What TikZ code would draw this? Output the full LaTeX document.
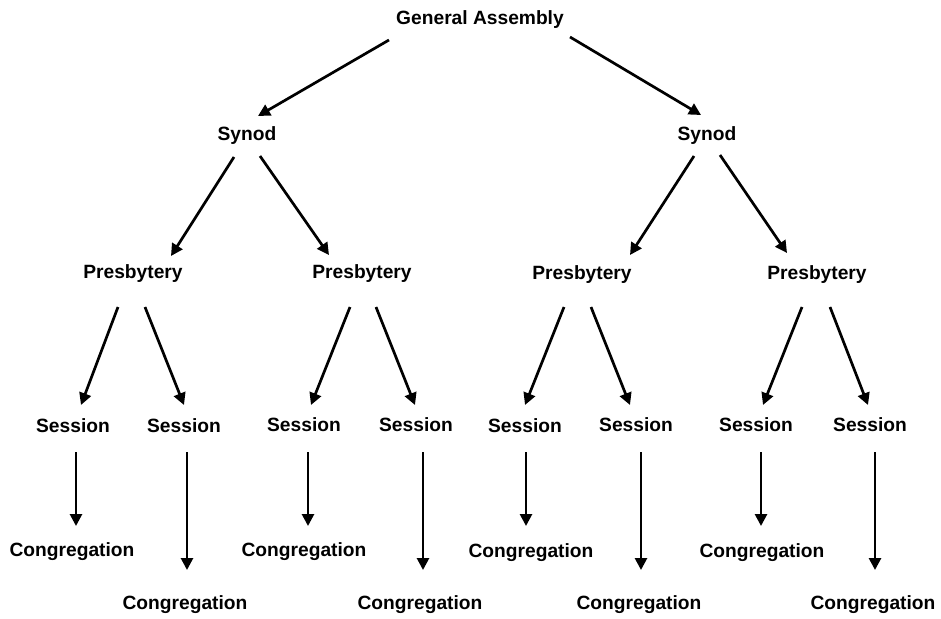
\documentclass[tikz,border=0pt]{standalone}
\usepackage{fontspec}
\setmainfont{Liberation Sans}
\usetikzlibrary{arrows.meta}
\begin{document}
\begin{tikzpicture}[x=1pt,y=-1pt,
  lbl/.style={font=\bfseries\fontsize{19.2}{22}\selectfont, inner sep=0pt, anchor=center, yshift=-2pt},
  conn/.style={line width=2.7pt, -{Triangle[length=12pt,width=12pt]}}]
\useasboundingbox (0,0) rectangle (941,618);
% labels
\node[lbl] (ga) at (480,18) {General Assembly};
\node[lbl] (s1) at (247,134) {Synod};
\node[lbl] (s2) at (707,134) {Synod};
\node[lbl] (p1) at (133,272) {Presbytery};
\node[lbl] (p2) at (362,272) {Presbytery};
\node[lbl] (p3) at (582,273) {Presbytery};
\node[lbl] (p4) at (817,273) {Presbytery};
\node[lbl] (e1) at (73,424) {Session};
\node[lbl] (e2) at (184,424) {Session};
\node[lbl] (e3) at (304,423) {Session};
\node[lbl] (e4) at (416,423) {Session};
\node[lbl] (e5) at (525,424) {Session};
\node[lbl] (e6) at (636,423) {Session};
\node[lbl] (e7) at (756,423) {Session};
\node[lbl] (e8) at (870,423) {Session};
\node[lbl] (c1) at (72,550) {Congregation};
\node[lbl] (c2) at (185,603) {Congregation};
\node[lbl] (c3) at (304,550) {Congregation};
\node[lbl] (c4) at (420,603) {Congregation};
\node[lbl] (c5) at (531,551) {Congregation};
\node[lbl] (c6) at (639,603) {Congregation};
\node[lbl] (c7) at (762,551) {Congregation};
\node[lbl] (c8) at (873,603) {Congregation};
% connector end points
\coordinate (ga-a) at (389,40);  \coordinate (s1-in) at (258,116);
\coordinate (ga-b) at (570,37);  \coordinate (s2-in) at (701,115);
\coordinate (s1-a) at (234,157); \coordinate (p1-in) at (171,256);
\coordinate (s1-b) at (260,156); \coordinate (p2-in) at (329,255);
\coordinate (s2-a) at (694,156); \coordinate (p3-in) at (630,255);
\coordinate (s2-b) at (720,155); \coordinate (p4-in) at (787,253);
\coordinate (p1-a) at (118,307); \coordinate (e1-in) at (81,405);
\coordinate (p1-b) at (145,307); \coordinate (e2-in) at (184,405);
\coordinate (p2-a) at (350,307); \coordinate (e3-in) at (311,405);
\coordinate (p2-b) at (376,307); \coordinate (e4-in) at (415,405);
\coordinate (p3-a) at (564,307); \coordinate (e5-in) at (525,405);
\coordinate (p3-b) at (591,307); \coordinate (e6-in) at (630,405);
\coordinate (p4-a) at (802,307); \coordinate (e7-in) at (763,405);
\coordinate (p4-b) at (830,307); \coordinate (e8-in) at (868,405);
\coordinate (e1-o) at (76,452);  \coordinate (c1-in) at (76,526);
\coordinate (e2-o) at (187,452); \coordinate (c2-in) at (187,570);
\coordinate (e3-o) at (308,452); \coordinate (c3-in) at (308,526);
\coordinate (e4-o) at (423,452); \coordinate (c4-in) at (423,570);
\coordinate (e5-o) at (526,452); \coordinate (c5-in) at (526,526);
\coordinate (e6-o) at (641,452); \coordinate (c6-in) at (641,570);
\coordinate (e7-o) at (761,452); \coordinate (c7-in) at (761,526);
\coordinate (e8-o) at (875,452); \coordinate (c8-in) at (875,570);
% connectors
\draw[conn] (ga-a) -- (s1-in);
\draw[conn] (ga-b) -- (s2-in);
\draw[conn] (s1-a) -- (p1-in);
\draw[conn] (s1-b) -- (p2-in);
\draw[conn] (s2-a) -- (p3-in);
\draw[conn] (s2-b) -- (p4-in);
\draw[conn] (p1-a) -- (e1-in);
\draw[conn] (p1-b) -- (e2-in);
\draw[conn] (p2-a) -- (e3-in);
\draw[conn] (p2-b) -- (e4-in);
\draw[conn] (p3-a) -- (e5-in);
\draw[conn] (p3-b) -- (e6-in);
\draw[conn] (p4-a) -- (e7-in);
\draw[conn] (p4-b) -- (e8-in);
\draw[conn] (e1-o) -- (c1-in);
\draw[conn] (e2-o) -- (c2-in);
\draw[conn] (e3-o) -- (c3-in);
\draw[conn] (e4-o) -- (c4-in);
\draw[conn] (e5-o) -- (c5-in);
\draw[conn] (e6-o) -- (c6-in);
\draw[conn] (e7-o) -- (c7-in);
\draw[conn] (e8-o) -- (c8-in);
\end{tikzpicture}
\end{document}
